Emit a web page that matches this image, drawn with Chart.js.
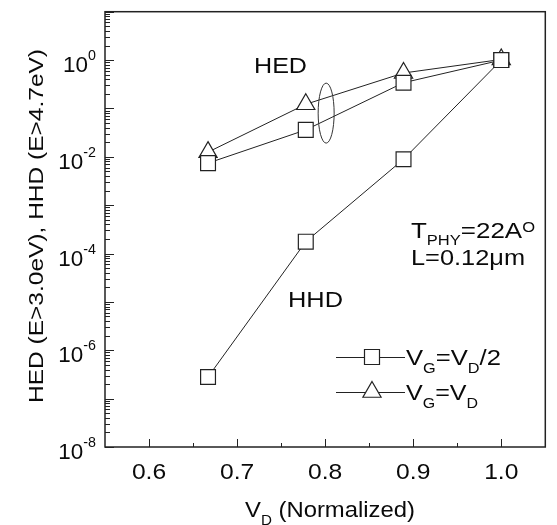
<!DOCTYPE html>
<html lang="en">
<head>
    <meta charset="UTF-8">
    <title>HED / HHD vs VD</title>
    <script src="https://cdn.jsdelivr.net/npm/chart.js"></script>
    <style>
        body {
            margin: 0;
            background: #ffffff;
        }
        #wrap {
            width: 557px;
            height: 525px;
        }
    </style>
</head>
<body>
    <div id="wrap"><canvas id="hotChart" width="557" height="525"></canvas></div>
    <script>
        // values
        const vd = [0.667, 0.778, 0.889, 1.0];
        const hedHalf = [0.0074, 0.036, 0.34, 1.0];   // VG=VD/2, HED
        const hhdHalf = [2.8e-7, 1.76e-4, 8.9e-3, 1.0]; // VG=VD/2, HHD
        const hedFull = [0.0125, 0.122, 0.54, 1.03];   // VG=VD, HED
        const xTicks = [0.6, 0.7, 0.8, 0.9, 1.0];
        const xTickLabels = ['0.6', '0.7', '0.8', '0.9', '1.0'];
        const yTickExps = [-8, -6, -4, -2, 0];

        const INK = '#0a0a0a';
        const FONT = '"Liberation Sans", Arial, sans-serif';

        function pts(ys) {
            return vd.map((x, i) => ({ x: x, y: ys[i] }));
        }

        // draws text runs with sub/superscripts; sx stretches horizontally,
        // or if fit is given the run is stretched to that width
        function drawParts(ctx, parts, x, y, size, align, sx, fit) {
            sx = sx || 1;
            const pieces = parts.map(p => {
                const kind = p[1] || 'n';
                const fs = kind === 'n' ? size : Math.round(size * 0.62);
                ctx.font = fs + 'px ' + FONT;
                return { t: p[0], kind: kind, fs: fs, w: ctx.measureText(p[0]).width, dy: p[2] };
            });
            let natural = pieces.reduce((s, p) => s + p.w, 0);
            if (fit) sx = fit / natural;
            const total = natural * sx;
            let cx = x;
            if (align === 'right') cx = x - total;
            if (align === 'center') cx = x - total / 2;
            ctx.textAlign = 'left';
            ctx.textBaseline = 'alphabetic';
            pieces.forEach(p => {
                let dy = 0;
                if (p.kind === 'sub') dy = size * 0.35;
                if (p.kind === 'sup') dy = -size * 0.52;
                if (p.dy !== undefined) dy = p.dy;
                ctx.font = p.fs + 'px ' + FONT;
                ctx.save();
                ctx.translate(cx, y + dy);
                ctx.scale(sx, 1);
                ctx.fillText(p.t, 0, 0);
                ctx.restore();
                cx += p.w * sx;
            });
        }

        const decorations = {
            id: 'decorations',
            afterDatasetsDraw(chart) {
                const ctx = chart.ctx;
                const xs = chart.scales.x;
                const ys = chart.scales.y;
                // ellipse grouping the HED curves
                ctx.save();
                ctx.strokeStyle = '#333';
                ctx.lineWidth = 1;
                ctx.beginPath();
                ctx.ellipse(xs.getPixelForValue(0.8) + 1, ys.getPixelForValue(0.08), 8, 30, 0, 0, Math.PI * 2);
                ctx.stroke();
                ctx.restore();
            },
            afterDraw(chart) {
                const ctx = chart.ctx;
                const a = chart.chartArea;
                const xs = chart.scales.x;
                const ys = chart.scales.y;
                ctx.save();
                ctx.strokeStyle = '#222';
                ctx.fillStyle = INK;

                // frame
                ctx.lineWidth = 1.5;
                ctx.strokeRect(a.left, a.top, a.right - a.left, a.bottom - a.top);

                // x ticks, inward
                ctx.lineWidth = 1;
                ctx.beginPath();
                for (let v = 0.6; v < 1.04; v += 0.05) {
                    const px = Math.round(xs.getPixelForValue(v)) + 0.5;
                    const major = Math.abs(v * 10 - Math.round(v * 10)) < 1e-6;
                    ctx.moveTo(px, a.bottom);
                    ctx.lineTo(px, a.bottom - (major ? 8 : 4));
                }
                // y ticks, inward
                for (let e = -8; e <= 1; e++) {
                    const py = Math.round(ys.getPixelForValue(Math.pow(10, e))) + 0.5;
                    ctx.moveTo(a.left, py);
                    ctx.lineTo(a.left + 9, py);
                    if (e < 1) {
                        for (let m = 2; m <= 9; m++) {
                            const pm = Math.round(ys.getPixelForValue(m * Math.pow(10, e))) + 0.5;
                            ctx.moveTo(a.left, pm);
                            ctx.lineTo(a.left + 5, pm);
                        }
                    }
                }
                ctx.stroke();

                // tick labels
                xTicks.forEach((v, i) => {
                    drawParts(ctx, [[xTickLabels[i]]], xs.getPixelForValue(v), 479, 22, 'center', 1.12);
                });
                yTickExps.forEach(e => {
                    const py = ys.getPixelForValue(Math.pow(10, e));
                    drawParts(ctx, [['10'], [String(e), 'sup', -12]], 96, py + 12, 22, 'right', 1.02);
                });

                // axis titles
                drawParts(ctx, [['V'], ['D', 'sub', 8], [' (Normalized)']], 330, 517, 22, 'center', 1, 170);
                ctx.save();
                ctx.translate(43, 226);
                ctx.rotate(-Math.PI / 2);
                drawParts(ctx, [['HED (E>3.0eV), HHD (E>4.7eV)']], 0, 0, 20, 'center', 1, 354);
                ctx.restore();

                // annotations
                drawParts(ctx, [['HED']], 254, 73, 22, 'left', 1, 53);
                drawParts(ctx, [['HHD']], 288, 307, 22, 'left', 1, 55);
                drawParts(ctx, [['T'], ['PHY', 'sub', 7], ['=22A'], ['O', 'sup', -6]], 411, 238, 22, 'left', 1, 124);
                drawParts(ctx, [['L=0.12\u03bcm']], 411, 265, 22, 'left', 1, 114);

                // legend
                const lx1 = 336, lx2 = 405, lmx = 372;
                const r1 = 357, r2 = 392;
                ctx.lineWidth = 1;
                ctx.beginPath();
                ctx.moveTo(lx1, r1 + 0.5); ctx.lineTo(lx2, r1 + 0.5);
                ctx.moveTo(lx1, r2 + 0.5); ctx.lineTo(lx2, r2 + 0.5);
                ctx.stroke();
                ctx.lineWidth = 1.2;
                ctx.fillStyle = '#ffffff';
                ctx.beginPath();
                ctx.rect(lmx - 7.5, r1 - 7.5, 15, 15);
                ctx.fill(); ctx.stroke();
                const tr = 10.5;
                ctx.beginPath();
                ctx.moveTo(lmx, r2 - tr);
                ctx.lineTo(lmx + 0.866 * tr, r2 + 0.5 * tr);
                ctx.lineTo(lmx - 0.866 * tr, r2 + 0.5 * tr);
                ctx.closePath();
                ctx.fill(); ctx.stroke();
                ctx.fillStyle = INK;
                drawParts(ctx, [['V'], ['G', 'sub', 8], ['=V'], ['D', 'sub', 8], ['/2']], 406, 365, 22, 'left', 1, 95);
                drawParts(ctx, [['V'], ['G', 'sub', 8], ['=V'], ['D', 'sub', 8]], 406, 400, 22, 'left', 1, 72);
                ctx.restore();
            }
        };

        const lineStyle = {
            showLine: true,
            borderColor: '#222',
            borderWidth: 1,
            backgroundColor: '#ffffff',
            pointBorderColor: '#222',
            pointBackgroundColor: '#ffffff',
            pointBorderWidth: 1.2
        };

        new Chart(document.getElementById('hotChart'), {
            type: 'scatter',
            data: {
                datasets: [
                    Object.assign({ label: 'HED VG=VD/2', data: pts(hedHalf), pointStyle: 'rect', pointRadius: 10.5, order: 0 }, lineStyle),
                    Object.assign({ label: 'HHD VG=VD/2', data: pts(hhdHalf), pointStyle: 'rect', pointRadius: 10.5, order: 0 }, lineStyle),
                    Object.assign({ label: 'HED VG=VD', data: pts(hedFull), pointStyle: 'triangle', pointRadius: 10.5, order: 1 }, lineStyle)
                ]
            },
            options: {
                responsive: false,
                animation: false,
                events: [],
                layout: { padding: { left: 105, top: 8, right: 3, bottom: 78 } },
                plugins: {
                    legend: { display: false },
                    tooltip: { enabled: false }
                },
                scales: {
                    x: { type: 'linear', display: false, min: 0.55, max: 1.05 },
                    y: { type: 'logarithmic', display: false, min: 1e-8, max: 10 }
                }
            },
            plugins: [decorations]
        });
    </script>
</body>
</html>
